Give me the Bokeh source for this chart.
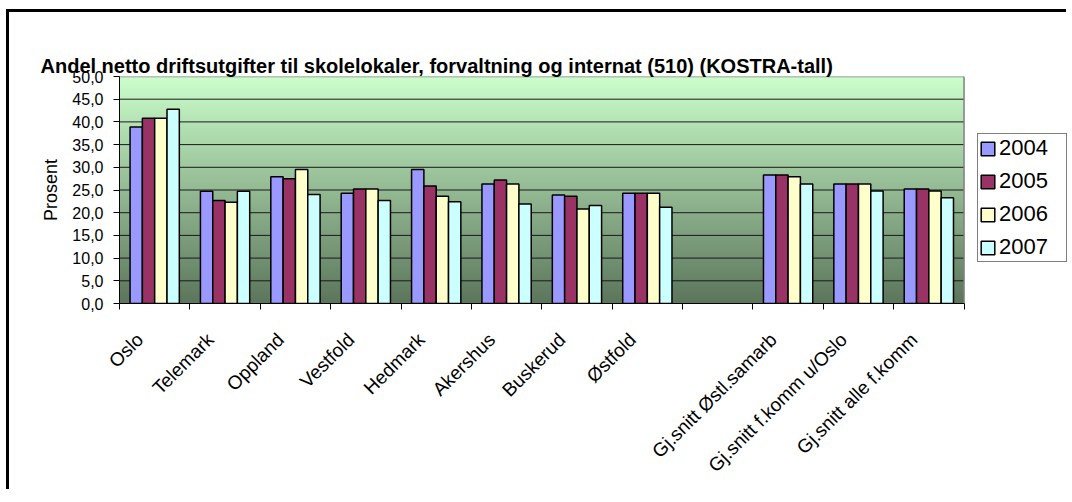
import numpy as np
from bokeh.plotting import figure
from bokeh.models import (Range1d, FixedTicker, Legend, LegendItem, Title,
                          CustomJSTickFormatter, ColumnDataSource, LinearAxis)
from bokeh.embed import file_html
from bokeh.resources import INLINE

title_text = "Andel netto driftsutgifter til skolelokaler, forvaltning og internat (510) (KOSTRA-tall)"
categories = ["Oslo", "Telemark", "Oppland", "Vestfold", "Hedmark", "Akershus",
              "Buskerud", "Østfold", "", "Gj.snitt Østl.samarb",
              "Gj.snitt f.komm u/Oslo", "Gj.snitt alle f.komm"]
years = ["2004", "2005", "2006", "2007"]
v2004 = [38.9, 24.7, 27.9, 24.3, 29.5, 26.3, 23.9, 24.3, None, 28.3, 26.3, 25.2]
v2005 = [40.8, 22.7, 27.5, 25.2, 25.9, 27.2, 23.6, 24.3, None, 28.3, 26.3, 25.2]
v2006 = [40.8, 22.3, 29.5, 25.2, 23.6, 26.3, 20.8, 24.3, None, 27.9, 26.3, 24.8]
v2007 = [42.8, 24.7, 24.0, 22.7, 22.4, 21.9, 21.6, 21.2, None, 26.3, 24.8, 23.3]
series = [v2004, v2005, v2006, v2007]
colors = ["#9999FF", "#993366", "#FFFFCC", "#CCFFFF"]
y_ticks = [0, 5, 10, 15, 20, 25, 30, 35, 40, 45, 50]

FONT = "Liberation Sans"
n_cat = len(categories)
y_max = y_ticks[-1]

# the frame is widened to the right so the legend can sit beside the bars
p = figure(width=1060, height=480, x_range=Range1d(0, 13.47),
           y_range=Range1d(0, y_max), output_backend="svg", toolbar_location=None,
           min_border_left=110, min_border_right=2, min_border_top=64,
           min_border_bottom=189)
p.styles = {"margin-top": "9px", "position": "relative", "left": "6px",
            "border-left": "3px solid #000000", "border-top": "3px solid #000000"}
p.outline_line_color = None
p.background_fill_color = "#FFFFFF"

# gradient plot-area background
n = 256
t = np.linspace(0.0, 1.0, n)[:, None]
top_c = np.array([204, 255, 204])
bot_c = np.array([92, 118, 92])
rgb = (bot_c + (top_c - bot_c) * t).astype(np.uint8)
img = np.empty((n, 1), dtype=np.uint32)
view = img.view(dtype=np.uint8).reshape((n, 1, 4))
view[:, 0, 0] = rgb[:, 0]
view[:, 0, 1] = rgb[:, 1]
view[:, 0, 2] = rgb[:, 2]
view[:, 0, 3] = 255
p.image_rgba(image=[img], x=0, y=0, dw=n_cat, dh=y_max)

# horizontal gridlines limited to the plot area
p.xgrid.grid_line_color = None
p.ygrid.grid_line_color = None
inner = y_ticks[1:-1]
p.segment(x0=[0] * len(inner), x1=[n_cat] * len(inner), y0=inner, y1=inner,
          line_color="#1a1a1a", line_width=1)
# gray plot-area border (top and right)
p.segment(x0=[0, n_cat], x1=[n_cat, n_cat], y0=[y_max, 0], y1=[y_max, y_max],
          line_color="#808080", line_width=1.5)

bw = 0.175
offsets = [-1.5 * bw, -0.5 * bw, 0.5 * bw, 1.5 * bw]
items = []
for yr, vals, col, off in zip(years, series, colors, offsets):
    xs = [i + 0.5 + off for i, v in enumerate(vals) if v is not None]
    ys = [v for v in vals if v is not None]
    src = ColumnDataSource(dict(x=xs, top=ys))
    r = p.vbar(x="x", top="top", bottom=0, width=bw, source=src,
               fill_color=col, line_color="#000000", line_width=1.5)
    items.append(LegendItem(label=yr, renderers=[r]))

# x axis (labels hung slightly left of the category centre, as in the original)
xa = p.xaxis[0]
xa.bounds = (0, n_cat)
xa.ticker = FixedTicker(ticks=[i + 0.29 for i in range(n_cat)],
                        minor_ticks=list(range(n_cat + 1)))
xa.formatter = CustomJSTickFormatter(args=dict(names=categories),
                                     code="return names[Math.floor(tick)];")
xa.major_tick_out = 0
xa.major_tick_in = 0
xa.minor_tick_out = 6
xa.minor_tick_in = 0
xa.minor_tick_line_color = "#000000"
xa.axis_line_color = "#000000"
xa.major_label_orientation = np.pi / 4
xa.major_label_standoff = 27
xa.major_label_text_font = FONT
xa.major_label_text_font_size = "19px"
xa.major_label_text_color = "#000000"

# y axis
ya = p.yaxis[0]
ya.ticker = FixedTicker(ticks=y_ticks)
ya.formatter = CustomJSTickFormatter(code="return tick.toFixed(1).replace('.', ',');")
ya.major_tick_out = 6
ya.major_tick_in = 0
ya.minor_tick_line_color = None
ya.axis_line_color = "#000000"
ya.major_tick_line_color = "#000000"
ya.major_label_standoff = 10
ya.major_label_text_font = FONT
ya.major_label_text_font_size = "16px"
ya.major_label_text_color = "#000000"
ya.axis_label = "Prosent"
ya.axis_label_text_font = FONT
ya.axis_label_text_font_size = "18px"
ya.axis_label_text_font_style = "normal"
ya.axis_label_text_color = "#000000"
ya.axis_label_standoff = 8

title = Title(text=title_text, align="left", offset=-79, standoff=0,
              text_font=FONT, text_font_size="20px", text_font_style="bold",
              text_color="#000000")
p.add_layout(title, "above")

# invisible spacer between plot area and title
spacer = LinearAxis(ticker=FixedTicker(ticks=[]), major_tick_out=31,
                    major_tick_in=0, major_label_standoff=0,
                    axis_line_color=None, major_tick_line_color=None,
                    minor_tick_line_color=None)
p.add_layout(spacer, "above")

legend = Legend(items=items, location=(858, 41), orientation="vertical")
legend.border_line_color = "#000000"
legend.border_line_width = 1
legend.background_fill_color = "#FFFFFF"
legend.background_fill_alpha = 1
legend.label_text_font = FONT
legend.label_text_font_size = "22px"
legend.label_text_color = "#000000"
legend.glyph_width = 17
legend.glyph_height = 17
legend.label_height = 22
legend.label_width = 66
legend.label_standoff = 3
legend.spacing = 7
legend.padding = 1
legend.margin = 0
p.add_layout(legend)

open("out.html", "w").write(file_html(p, INLINE))
